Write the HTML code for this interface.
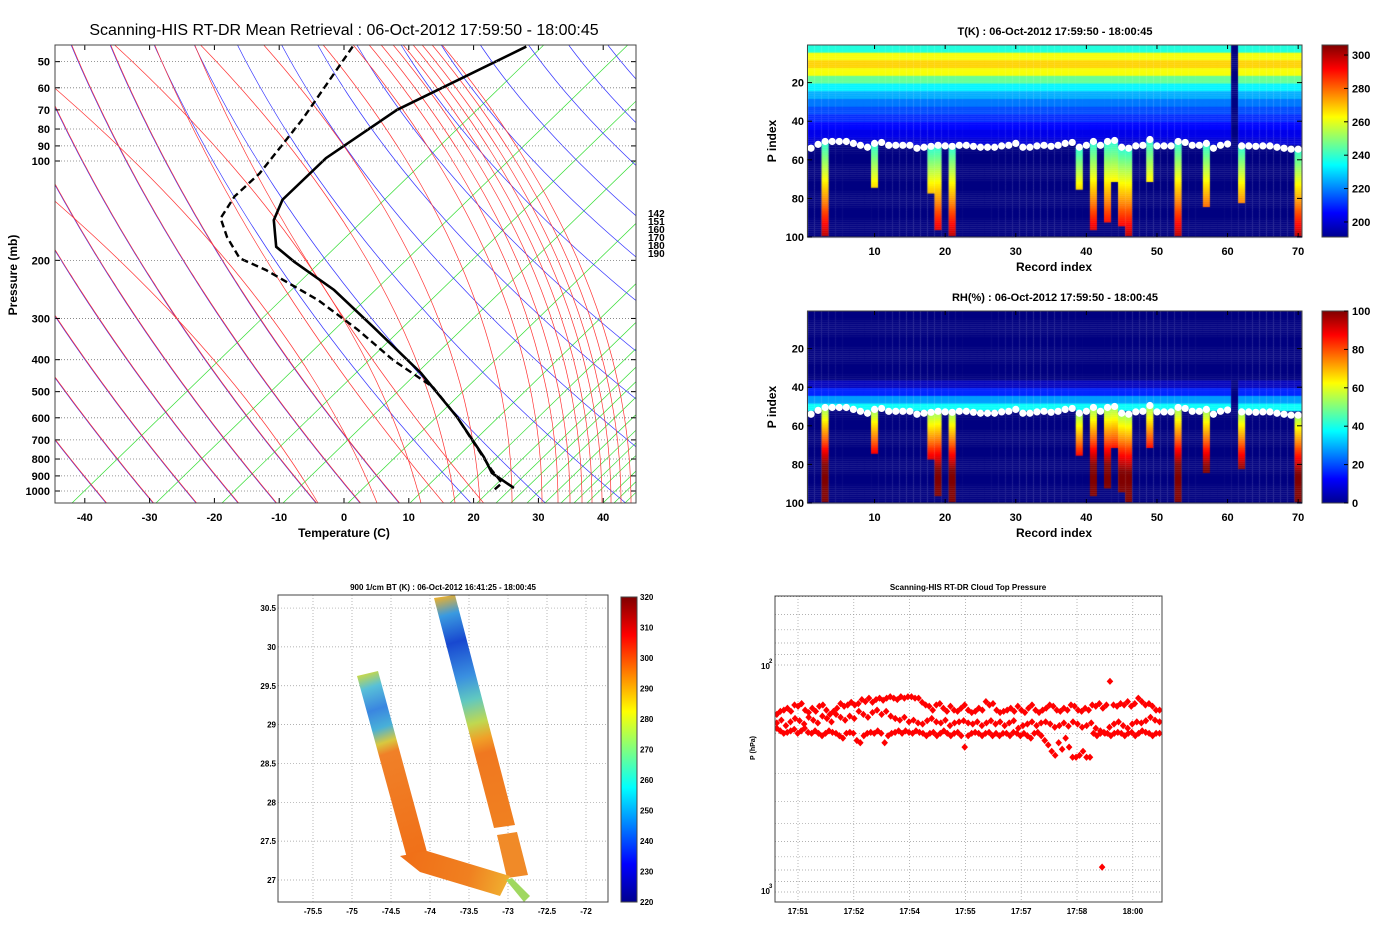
<!DOCTYPE html>
<html><head><meta charset="utf-8">
<style>
html,body{margin:0;padding:0;background:#fff;}
body{width:1392px;height:930px;position:relative;overflow:hidden;font-family:"Liberation Sans",sans-serif;}
svg text{font-family:"Liberation Sans",sans-serif;}
canvas{position:absolute;left:0;top:0;}
</style></head>
<body>
<canvas id="heat" width="1392" height="930"></canvas>
<svg id="main" width="1392" height="930" style="position:absolute;left:0;top:0">
<defs>
 <clipPath id="skclip"><rect x="55" y="45" width="581" height="458"/></clipPath>
 <clipPath id="scclip"><rect x="775" y="596" width="387" height="306"/></clipPath>
 <linearGradient id="jetV" x1="0" y1="1" x2="0" y2="0">
  <stop offset="0" stop-color="#00008f"/><stop offset="0.125" stop-color="#0000ff"/>
  <stop offset="0.375" stop-color="#00ffff"/><stop offset="0.625" stop-color="#ffff00"/>
  <stop offset="0.875" stop-color="#ff0000"/><stop offset="1" stop-color="#800000"/>
 </linearGradient>
 <linearGradient id="gLeft" gradientUnits="userSpaceOnUse" x1="357" y1="676" x2="417" y2="855">
  <stop offset="0" stop-color="#c8d848"/><stop offset="0.08" stop-color="#58c0d8"/>
  <stop offset="0.2" stop-color="#3a86e0"/><stop offset="0.3" stop-color="#48b0d8"/>
  <stop offset="0.38" stop-color="#d8c840"/><stop offset="0.44" stop-color="#f08028"/>
  <stop offset="1" stop-color="#f07018"/>
 </linearGradient>
 <linearGradient id="gRight" gradientUnits="userSpaceOnUse" x1="444" y1="596" x2="505" y2="826">
  <stop offset="0" stop-color="#e8b030"/><stop offset="0.08" stop-color="#3a9ae0"/>
  <stop offset="0.2" stop-color="#1848d0"/><stop offset="0.35" stop-color="#3a90e0"/>
  <stop offset="0.45" stop-color="#60c8c0"/><stop offset="0.55" stop-color="#c0d850"/>
  <stop offset="0.62" stop-color="#f0a028"/><stop offset="0.68" stop-color="#f07820"/>
  <stop offset="1" stop-color="#f08020"/>
 </linearGradient>
 <linearGradient id="gBottom" gradientUnits="userSpaceOnUse" x1="410" y1="860" x2="508" y2="886">
  <stop offset="0" stop-color="#f07018"/><stop offset="0.6" stop-color="#f08020"/><stop offset="1" stop-color="#f0b030"/>
 </linearGradient>
</defs>
<g id="skewt"></g>
<g id="heatsvg"></g>
<g id="map"></g>
<g id="scatter"></g>
</svg>
<script>
// ================= DATA =================
// Skew-T sounding (pressure hPa, temperature C)
const tempP = [45,70,98,131,151,182,202,246,318,439,597,789,882,979];
const tempT = [-42.3,-52.5,-56.0,-56.3,-54.5,-50.0,-44.9,-34.4,-22.7,-8.2,4.2,14.5,18.2,23.9];
const dewP = [45,75,109,128,149,170,197,214,264,324,401,484,597,864,946,1007];
const dewT = [-69.1,-65.6,-63.9,-64.2,-63.0,-59.1,-53.9,-48.0,-35.3,-24.7,-14.5,-4.2,4.2,17.7,21.3,21.1];
const skTempTicks = [-40,-30,-20,-10,0,10,20,30,40];
const skPresTicks = [50,60,70,80,90,100,200,300,400,500,600,700,800,900,1000];
const skRightLabels = ["142","151","160","170","180","190"];

// Heatmap data (P index 1..100, records 1..70)
const tProfile = [238,262,268,262,246,233,225,219,214,210,206,203,201]; // per 4-index group, above cloud top
const rhProfile = [0,0,0,0,0,0,0,0,0,6,16,28,38];
const cloudTop = [54,52,50.5,50.5,50.5,50.5,51.5,52.5,53.5,51.5,51,52.5,52.5,52.5,52.5,54,53.5,53,52.5,52.8,53,52.5,52.5,53,53.5,53.5,53.5,52.8,52.5,51.5,53.5,53.5,52.8,52.5,53,52.5,51.5,51,53.5,52.5,50.5,52.5,50.5,50,53.5,54,52.8,52.5,49.5,52.8,52.8,52.8,50.5,51,52.5,52.5,51.5,54,52.5,51.8,0,52.8,52.8,53,52.8,52.8,53.5,54,54.5,54.5];
const cloudRecs = [3,10,18,19,21,39,41,43,44,45,46,49,53,57,62,70];
const cloudEnd  = [99,74,77,96,99,75,96,92,71,94,99,71,99,84,82,99];
const missingRec = [61];
const heatXTicks = [10,20,30,40,50,60,70];
const heatYTicks = [20,40,60,80,100];
const tCbTicks = [200,220,240,260,280,300];
const rhCbTicks = [0,20,40,60,80,100];

// Map ticks
const lonTicks = [-75.5,-75,-74.5,-74,-73.5,-73,-72.5,-72];
const latTicks = [27,27.5,28,28.5,29,29.5,30,30.5];
const btTicks = [220,230,240,250,260,270,280,290,300,310,320];

// Cloud-top pressure scatter (hPa), evenly spread over the time axis
const timeLabels = ["17:51","17:52","17:54","17:55","17:57","17:58","18:00"];
const ctpUpper = [165,160,158,155,160,150,152,148,158,162,155,160,152,150,158,165,160,155,148,152,150,146,
 150,148,142,145,140,146,142,140,143,140,138,140,142,138,140,138,138,140,140,146,150,
 152,158,150,148,155,160,152,158,160,155,150,158,162,160,155,158,145,150,148,158,162,160,
 158,155,160,152,158,162,155,150,158,162,158,155,150,152,158,160,155,158,150,152,158,
 160,155,158,150,152,148,155,150,118,150,152,148,150,145,152,148,140,145,150,148,152,158,158];
const ctpMid = [180,175,185,178,172,176,182,170,175,180,168,172,178,165,170,175,168,172,160,165,170,162,
 158,165,160,168,172,175,170,178,175,180,182,176,172,178,180,175,185,180,178,176,180,
 182,178,185,180,176,182,178,185,180,176,190,185,182,178,185,180,178,182,188,
 185,180,186,178,182,188,185,180,190,195,200,188,182,178,185,190,182,178,180,176,170,175,178];
const ctpLower = [190,195,200,198,195,192,200,195,190,198,200,195,200,205,200,195,198,200,205,210,200,198,
 200,215,220,205,200,198,200,195,200,220,205,200,198,195,200,195,198,200,195,198,200,
 205,200,198,205,200,195,200,205,200,198,205,230,205,200,198,200,205,200,198,205,200,205,200,
 200,205,198,200,205,200,205,210,200,198,205,215,225,240,250,220,235,210,230,255,255,250,
 240,255,255,200,205,200,198,200,205,200,198,200,205,200,198,205,200,195,198,200,205,200,200];
const ctpOutT = [5.45];
const ctpOutP = [777];

// ================= HELPERS =================
const NS = "http://www.w3.org/2000/svg";
function mk(parent, tag, attrs, txt){
  const e = document.createElementNS(NS, tag);
  for (const k in attrs) e.setAttribute(k, attrs[k]);
  if (txt !== undefined) e.textContent = txt;
  parent.appendChild(e); return e;
}
function jet(v){
  v = Math.max(0, Math.min(1, v));
  const c = x => Math.round(255*Math.max(0, Math.min(1, x)));
  return "rgb(" + c(1.5-Math.abs(4*v-3)) + "," + c(1.5-Math.abs(4*v-2)) + "," + c(1.5-Math.abs(4*v-1)) + ")";
}

// ================= SKEW-T =================
(function(){
  const g = document.getElementById('skewt');
  const X0=55, X1=636, Y0=45, Y1=503;
  const SK = 1.0;
  const yP = p => 491 - 330*Math.log10(1000/p);
  const xT = (T, y) => 344 + 6.48*T + SK*(503 - y);
  const cg = mk(g, 'g', {'clip-path':'url(#skclip)'});
  
  
  // green lines
  const greenB = [72,156,222,283,348,410,450,477,496,511,527,545,561,574,587,603,614,625,637,648,659,670];
  greenB.forEach(b => {
    mk(cg, 'line', {x1:b, y1:503, x2:b+1.03*458, y2:45, stroke:'#33dd33', 'stroke-width':0.7});
  });
  // purple (red+blue) curved family
  const Bs = [-185,-138,-95,-53,-15,25,69,108,152,192,235,279,315,354,398,438,477,525,565,604,640];
  Bs.forEach(B => {
    let dR = '', dB = '';
    const m = 1 + Math.max(0, B-120)/180;
    for (let y = 40; y <= 506; y += 4){
      const u = y - 40;
      const xr = B + 0.417*u + 0.000457*u*u;
      const xb = B + 0.417*u*(1+Math.max(0,B-120)/600) + 0.000457*u*u*m;
      dR += (y===40?'M':'L') + xr.toFixed(1) + ',' + y;
      dB += (y===40?'M':'L') + xb.toFixed(1) + ',' + y;
    }
    mk(cg, 'path', {d:dB, fill:'none', stroke:'#3333ff', 'stroke-width':0.7});
    if (B < 200) mk(cg, 'path', {d:dR, fill:'none', stroke:'#ff3333', 'stroke-width':0.7, transform:'translate(0.6,0)'});
  });
  // red near-vertical family
  const redB = [318,377,421,455,480,512,542,558,570,582,592,602,611,621,631];
  redB.forEach(xb => {
    const s = Math.max(0, 0.6 - (xb-318)/300);
    let d = '';
    for (let y = 506; y >= 40; y -= 4){
      const h = 503 - y;
      const x = xb - s*h - 0.0009*h*h;
      d += (y===506?'M':'L') + x.toFixed(1) + ',' + y;
    }
    mk(cg, 'path', {d:d, fill:'none', stroke:'#ff3333', 'stroke-width':0.7});
  });
  // pressure grid
  skPresTicks.forEach(p => {
    const y = yP(p);
    const l = mk(g, 'line', {x1:X0, y1:y, x2:X1, y2:y, stroke:'#777', 'stroke-width':0.8, 'stroke-dasharray':'1,2'});
    
    
    const t = mk(g, 'text', {x:50, y:y+4, 'font-size':11, 'font-weight':'bold', 'text-anchor':'end'}, String(p));
    
    
    mk(g, 'line', {x1:X0, y1:y, x2:X0+5, y2:y, stroke:'#000'});
    mk(g, 'line', {x1:X1-5, y1:y, x2:X1, y2:y, stroke:'#000'});
  });
  skTempTicks.forEach(T => {
    const x = 344 + 6.48*T;
    const t = mk(g, 'text', {x:x, y:521, 'font-size':11, 'font-weight':'bold', 'text-anchor':'middle'}, String(T));
    
    
    mk(g, 'line', {x1:x, y1:Y1, x2:x, y2:Y1-5, stroke:'#000'});
    mk(g, 'line', {x1:x, y1:Y0, x2:x, y2:Y0+5, stroke:'#000'});
  });
  // soundings
  const pathOf = (P, T) => P.map((p,i) => { const y = yP(p); return (i?'L':'M') + xT(T[i], y).toFixed(1) + ',' + y.toFixed(1); }).join('');
  const tl = mk(cg, 'path', {d:pathOf(tempP, tempT), fill:'none', stroke:'#000', 'stroke-width':2.6});
  
  
  const dl = mk(cg, 'path', {d:pathOf(dewP, dewT), fill:'none', stroke:'#000', 'stroke-width':2.4, 'stroke-dasharray':'7,4'});
  
  
  const fr = mk(g, 'rect', {x:X0, y:Y0, width:X1-X0, height:Y1-Y0, fill:'none', stroke:'#444', 'stroke-width':1});
  
  
  skRightLabels.forEach((s,i) => {
    const t = mk(g, 'text', {x:648, y:217+i*8, 'font-size':10, 'font-weight':'bold'}, s);
    
    
  });
  const ti = mk(g, 'text', {x:344, y:35, 'font-size':16, 'text-anchor':'middle'}, 'Scanning-HIS RT-DR Mean Retrieval : 06-Oct-2012 17:59:50 - 18:00:45');
  
  
  const xl = mk(g, 'text', {x:344, y:537, 'font-size':12, 'font-weight':'bold', 'text-anchor':'middle'}, 'Temperature (C)');
  
  
  const yl = mk(g, 'text', {x:0, y:0, 'font-size':12, 'font-weight':'bold', 'text-anchor':'middle', transform:'translate(17,275) rotate(-90)'}, 'Pressure (mb)');
  
  
})();

// ================= HEATMAPS =================
(function(){
  const ctx = document.getElementById('heat').getContext('2d');
  const g = document.getElementById('heatsvg');
  const xR = r => 807.5 + (r-0.5)*7.06;
  const panels = [
    {off:0, min:191, max:306, title:'T(K) : 06-Oct-2012 17:59:50 - 18:00:45', kind:'T', cbTicks:tCbTicks},
    {off:266, min:0, max:100, title:'RH(%) : 06-Oct-2012 17:59:50 - 18:00:45', kind:'RH', cbTicks:rhCbTicks}
  ];
  panels.forEach(P => {
    const yI = i => 44 + P.off + i*1.93;
    for (let r = 1; r <= 70; r++){
      const top = cloudTop[r-1];
      const ci = cloudRecs.indexOf(r);
      const missing = missingRec.indexOf(r) >= 0;
      for (let i = 1; i <= 100; i++){
        let v;
        const grp = Math.floor((i-1)/4);
        if (missing) v = P.min;
        else if (i < top) v = (P.kind==='T' ? (grp < tProfile.length ? tProfile[grp] : 191) : (grp < rhProfile.length ? rhProfile[grp] : 0));
        else if (ci >= 0 && i <= cloudEnd[ci]) {
          if (P.kind==='T') v = 238 + (i-top)/(100-top)*62;
          else v = Math.min(100, 52 + (i-top)*1.6);
        } else v = P.min;
        ctx.fillStyle = jet((v-P.min)/(P.max-P.min));
        const y0 = Math.max(45+P.off, yI(i-0.5)), y1 = Math.min(237+P.off, yI(i+0.5));
        ctx.fillRect(xR(r-0.5), y0, 7.2, y1-y0+0.3);
      }
    }
    for (let r = 1; r <= 70; r++){
      if (missingRec.indexOf(r) >= 0) continue;
      const c = mk(g, 'circle', {cx:xR(r), cy:yI(cloudTop[r-1]), r:3.6, fill:'#fff'});
      
      
    }
    const fr = mk(g, 'rect', {x:807.5, y:45+P.off, width:494.5, height:192, fill:'none', stroke:'#444'});
    
    
    heatXTicks.forEach(r => {
      const x = xR(r);
      mk(g, 'line', {x1:x, y1:237+P.off, x2:x, y2:233+P.off, stroke:'#000'});
      mk(g, 'line', {x1:x, y1:45+P.off, x2:x, y2:49+P.off, stroke:'#000'});
      const t = mk(g, 'text', {x:x, y:255+P.off, 'font-size':11, 'font-weight':'bold', 'text-anchor':'middle'}, String(r));
      
      
    });
    heatYTicks.forEach(i => {
      const y = yI(i);
      mk(g, 'line', {x1:807.5, y1:y, x2:812, y2:y, stroke:'#000'});
      mk(g, 'line', {x1:1297, y1:y, x2:1302, y2:y, stroke:'#000'});
      const t = mk(g, 'text', {x:804, y:y+4, 'font-size':11, 'font-weight':'bold', 'text-anchor':'end'}, String(i));
      
      
    });
    const ti = mk(g, 'text', {x:1055, y:35+P.off, 'font-size':11, 'font-weight':'bold', 'text-anchor':'middle'}, P.title);
    
    
    const xl = mk(g, 'text', {x:1054, y:271+P.off, 'font-size':12, 'font-weight':'bold', 'text-anchor':'middle'}, 'Record index');
    
    
    const yl = mk(g, 'text', {x:0, y:0, 'font-size':12, 'font-weight':'bold', 'text-anchor':'middle', transform:'translate(776,' + (141+P.off) + ') rotate(-90)'}, 'P index');
    
    
    const cb = mk(g, 'rect', {x:1322, y:45+P.off, width:26, height:192, fill:'url(#jetV)', stroke:'#444'});
    
    
    P.cbTicks.forEach(v => {
      const y = 237 + P.off - (v-P.min)/(P.max-P.min)*192;
      mk(g, 'line', {x1:1344, y1:y, x2:1348, y2:y, stroke:'#000'});
      const t = mk(g, 'text', {x:1352, y:y+4, 'font-size':11, 'font-weight':'bold'}, String(v));
      
      
    });
  });
})();

// ================= MAP =================
(function(){
  const g = document.getElementById('map');
  const X0=278, X1=608, Y0=595, Y1=902;
  const xL = lon => 352 + (lon+75)*78;
  const yL = lat => 880 - (lat-27)*77.7;
  lonTicks.forEach(v => {
    const x = xL(v);
    mk(g, 'line', {x1:x, y1:Y0, x2:x, y2:Y1, stroke:'#999', 'stroke-width':0.7, 'stroke-dasharray':'1,2'});
    const t = mk(g, 'text', {x:x, y:914, 'font-size':8, 'font-weight':'bold', 'text-anchor':'middle'}, String(v));
    
    
  });
  latTicks.forEach(v => {
    const y = yL(v);
    mk(g, 'line', {x1:X0, y1:y, x2:X1, y2:y, stroke:'#999', 'stroke-width':0.7, 'stroke-dasharray':'1,2'});
    const t = mk(g, 'text', {x:276, y:y+3, 'font-size':8, 'font-weight':'bold', 'text-anchor':'end'}, String(v));
    
    
  });
  const sw = [
    ['left-swath', '357,676 378,671 427,852 407,858', 'url(#gLeft)'],
    ['right-swath', '434,598 455,595 515,825 494,828', 'url(#gRight)'],
    ['right-swath-lower', '497,835 517,832 528,875 507,878', '#f08a28'],
    ['bottom-swath', '400,856 427,851 510,876 500,896 420,872', 'url(#gBottom)'],
    ['swath-tail', '506,880 512,878 530,896 524,902', '#a0d860']
  ];
  sw.forEach(s => {
    const p = mk(g, 'polygon', {points:s[1], fill:s[2]});
    
    
  });
  const fr = mk(g, 'rect', {x:X0, y:Y0, width:X1-X0, height:Y1-Y0, fill:'none', stroke:'#444'});
  
  
  const ti = mk(g, 'text', {x:443, y:590, 'font-size':8, 'font-weight':'bold', 'text-anchor':'middle'}, '900 1/cm BT (K) : 06-Oct-2012 16:41:25 - 18:00:45');
  
  
  const cb = mk(g, 'rect', {x:621, y:597, width:16, height:305, fill:'url(#jetV)', stroke:'#444'});
  
  
  btTicks.forEach(v => {
    const y = 902 - (v-220)/100*305;
    const t = mk(g, 'text', {x:640, y:y+3, 'font-size':8, 'font-weight':'bold'}, String(v));
    
    
  });
})();

// ================= SCATTER =================
(function(){
  const g = document.getElementById('scatter');
  const X0=775, X1=1162, Y0=596, Y1=902;
  const xS = t => 798 + t*55.8;
  const yS = p => 665 + 227*Math.log10(p/100);
  timeLabels.forEach((s,i) => {
    const x = xS(i);
    mk(g, 'line', {x1:x, y1:Y0, x2:x, y2:Y1, stroke:'#999', 'stroke-width':0.7, 'stroke-dasharray':'1,2'});
    const t = mk(g, 'text', {x:x, y:914, 'font-size':8, 'font-weight':'bold', 'text-anchor':'middle'}, s);
    
    
  });
  const gridP = [50,60,70,80,90,100,200,300,400,500,600,700,800,900,1000];
  gridP.forEach(p => {
    const y = yS(p);
    mk(g, 'line', {x1:X0, y1:y, x2:X1, y2:y, stroke:'#999', 'stroke-width':0.7, 'stroke-dasharray':'1,2'});
  });
  const cg = mk(g, 'g', {'clip-path':'url(#scclip)', fill:'#ff0000'});
  const dia = (t, p, name) => {
    const x = xS(t), y = yS(p);
    const d = mk(cg, 'path', {d:'M'+x+','+(y-3.6)+'L'+(x+3.3)+','+y+'L'+x+','+(y+3.6)+'L'+(x-3.3)+','+y+'Z'});
    
    
  };
  [ctpUpper, ctpMid, ctpLower].forEach(arr => {
    const n = arr.length;
    arr.forEach((p,i) => dia(-0.38 + i*(6.86/(n-1)), p, 'cloud-top-point'));
  });
  ctpOutT.forEach((t,i) => dia(t, ctpOutP[i], 'cloud-top-outlier'));
  const fr = mk(g, 'rect', {x:X0, y:Y0, width:X1-X0, height:Y1-Y0, fill:'none', stroke:'#444'});
  
  
  const t1 = mk(g, 'text', {x:761, y:669, 'font-size':8, 'font-weight':'bold'}, '10');
  
  
  mk(g, 'text', {x:769, y:663, 'font-size':6, 'font-weight':'bold'}, '2');
  const t2 = mk(g, 'text', {x:761, y:894, 'font-size':8, 'font-weight':'bold'}, '10');
  
  
  mk(g, 'text', {x:769, y:888, 'font-size':6, 'font-weight':'bold'}, '3');
  const yl = mk(g, 'text', {x:0, y:0, 'font-size':7, 'font-weight':'bold', 'text-anchor':'middle', transform:'translate(755,748) rotate(-90)'}, 'P (hPa)');
  
  
  const ti = mk(g, 'text', {x:968, y:590, 'font-size':8, 'font-weight':'bold', 'text-anchor':'middle'}, 'Scanning-HIS RT-DR Cloud Top Pressure');
  
  
})();
</script>
</body></html>
